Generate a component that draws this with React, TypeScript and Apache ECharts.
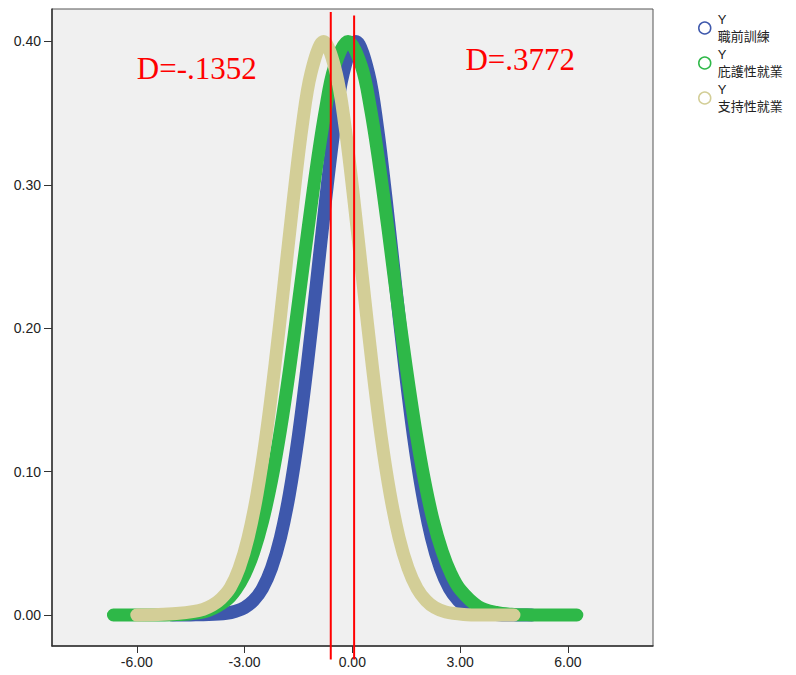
import React, { useEffect, useRef } from "react";
import * as echarts from "echarts";

// ---- data ----
const seriesNames = ["職前訓練", "庇護性就業", "支持性就業"];
const seriesColors = ["#3E58AC", "#2EB848", "#D3CE97"];

const blueX = [-5.0, -4.5, -4.0, -3.5, -3.25, -3.0, -2.75, -2.5, -2.25, -2.0, -1.75, -1.5, -1.25, -1.0, -0.75, -0.5, -0.25, 0.1, 0.45, 0.7, 0.95, 1.2, 1.45, 1.7, 1.95, 2.2, 2.45, 2.7, 2.95, 3.2, 3.5, 4.0, 4.5, 5.0];
const blueY = [0, 0.0001, 0.0003, 0.0012, 0.0026, 0.0052, 0.0101, 0.0186, 0.0327, 0.0541, 0.0847, 0.1253, 0.175, 0.231, 0.288, 0.34, 0.378, 0.4, 0.378, 0.34, 0.288, 0.231, 0.175, 0.125, 0.0847, 0.0541, 0.0327, 0.0186, 0.0101, 0.0051, 0.0021, 0.0004, 0, 0];

const greenX = [-6.65, -6.0, -5.5, -5.0, -4.5, -4.0, -3.5, -3.25, -3.0, -2.75, -2.5, -2.25, -2.0, -1.75, -1.5, -1.25, -1.0, -0.75, -0.5, -0.12, 0.25, 0.5, 0.75, 1.0, 1.25, 1.5, 1.75, 2.0, 2.25, 2.5, 2.75, 3.0, 3.5, 4.0, 4.5, 5.0, 5.5, 6.0, 6.25];
const greenY = [0, 0, 0, 0.0002, 0.0009, 0.0032, 0.0104, 0.0174, 0.0281, 0.0437, 0.0653, 0.0936, 0.129, 0.171, 0.218, 0.266, 0.312, 0.352, 0.382, 0.4, 0.383, 0.354, 0.314, 0.268, 0.219, 0.173, 0.131, 0.095, 0.066, 0.0445, 0.0286, 0.0178, 0.006, 0.0018, 0.0004, 0.0001, 0, 0, 0];

const yellowX = [-6.0, -5.4, -4.9, -4.4, -4.15, -3.9, -3.65, -3.4, -3.15, -2.9, -2.65, -2.4, -2.15, -1.9, -1.65, -1.4, -1.15, -0.8, -0.45, -0.2, 0.05, 0.3, 0.55, 0.8, 1.05, 1.3, 1.55, 1.8, 2.05, 2.3, 2.6, 3.1, 3.6, 4.1, 4.5];
const yellowY = [0, 0.0003, 0.001, 0.0025, 0.004, 0.0068, 0.0115, 0.019, 0.0327, 0.0541, 0.0847, 0.1253, 0.175, 0.231, 0.288, 0.34, 0.378, 0.4, 0.378, 0.34, 0.288, 0.231, 0.175, 0.125, 0.0847, 0.0541, 0.0327, 0.0186, 0.0101, 0.0051, 0.0021, 0.0004, 0, 0, 0];

const xTicks = [-6, -3, 0, 3, 6];
const yTicks = [0, 0.1, 0.2, 0.3, 0.4];

const refLineX = [-0.6, 0.05];
const refLineTop = [0.4205, 0.418];
const refLineBottom = -0.031;
const annotations = ["D=-.1352", "D=.3772"];
const annotationX = [-6.0, 3.15];
const annotationY = [0.3808, 0.3874];

const sans = "'Liberation Sans', 'Noto Sans CJK TC', Arial, sans-serif";
const serif = "'Liberation Serif', 'Times New Roman', serif";

export default function App() {
  const ref = useRef<HTMLDivElement>(null);
  useEffect(() => {
    document.body.style.margin = "0";
    if (!ref.current) return;
    const chart = echarts.init(ref.current, null, { renderer: "svg" });
    const xs = [blueX, greenX, yellowX];
    const ys = [blueY, greenY, yellowY];
    const series = seriesNames.map((name, i) => ({
      name,
      type: "line",
      data: xs[i].map((x, k) => [x, ys[i][k]]),
      showSymbol: false,
      smooth: 0.35,
      z: 2 + i,
      lineStyle: { color: seriesColors[i], width: 13, cap: "round", join: "round" },
      itemStyle: { color: seriesColors[i] },
    }));
    chart.setOption({
      animation: false,
      backgroundColor: "#ffffff",
      grid: {
        left: 52,
        right: 143,
        top: 9,
        bottom: 29,
        show: true,
        backgroundColor: "#F0F0F0",
        borderColor: "#555",
        borderWidth: 1,
      },
      xAxis: {
        type: "value",
        min: -8.36,
        max: 8.37,
        splitLine: { show: false },
        axisLine: { onZero: false, lineStyle: { color: "#333", width: 1.5 } },
        axisTick: { customValues: xTicks, length: 7, lineStyle: { color: "#333" } },
        axisLabel: {
          customValues: xTicks,
          formatter: (v: number) => v.toFixed(2),
          fontSize: 14,
          color: "#222",
          fontFamily: sans,
          margin: 9,
        },
      },
      yAxis: {
        type: "value",
        min: -0.0216,
        max: 0.4226,
        splitLine: { show: false },
        axisLine: { onZero: false, lineStyle: { color: "#333", width: 1.5 } },
        axisTick: { customValues: yTicks, length: 8, lineStyle: { color: "#333" } },
        axisLabel: {
          customValues: yTicks,
          formatter: (v: number) => v.toFixed(2),
          fontSize: 14,
          color: "#222",
          fontFamily: sans,
          margin: 11,
        },
      },
      legend: {
        orient: "vertical",
        left: 693,
        top: 6,
        itemWidth: 12,
        itemHeight: 12,
        itemGap: 1,
        data: seriesNames.map((name, i) => ({
          name,
          icon: "circle",
          itemStyle: { color: "transparent", borderColor: seriesColors[i], borderWidth: 1.5 },
        })),
        formatter: (name: string) => "Y\n" + name,
        textStyle: {
          fontSize: 13,
          lineHeight: 17,
          color: "#222",
          fontFamily: sans,
          padding: [0, 0, 0, 2],
        },
      },
      series,
    });

    const elements: any[] = [];
    refLineX.forEach((x, i) => {
      const p1 = chart.convertToPixel({ gridIndex: 0 }, [x, refLineTop[i]]) as number[];
      const p2 = chart.convertToPixel({ gridIndex: 0 }, [x, refLineBottom]) as number[];
      elements.push({
        type: "line",
        z: 100,
        shape: { x1: p1[0], y1: p1[1], x2: p2[0], y2: p2[1] },
        style: { stroke: "#FF0000", lineWidth: 2 },
      });
    });
    annotations.forEach((t, i) => {
      const p = chart.convertToPixel({ gridIndex: 0 }, [annotationX[i], annotationY[i]]) as number[];
      elements.push({
        type: "text",
        z: 100,
        x: p[0],
        y: p[1],
        style: {
          text: t,
          fill: "#FF0000",
          font: `31px ${serif}`,
          align: "left",
          verticalAlign: "middle",
        },
      });
    });
    chart.setOption({ graphic: elements });

    return () => chart.dispose();
  }, []);
  return <div ref={ref} style={{ width: 796, height: 675 }} />;
}
